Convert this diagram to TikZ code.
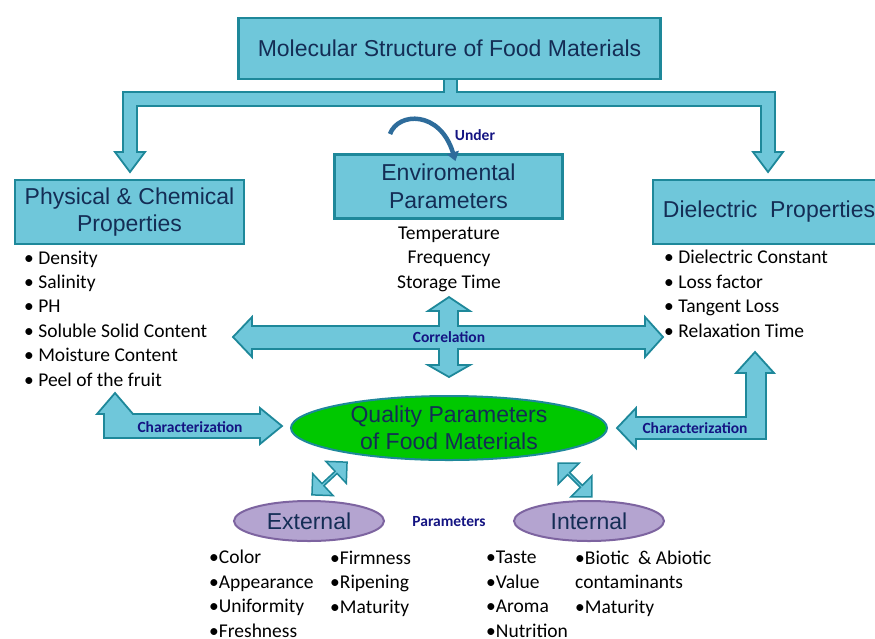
\documentclass[tikz,border=0pt]{standalone}
\usepackage{fontspec}
\setmainfont{Liberation Sans}
\newfontfamily\calibri{Carlito}
\usetikzlibrary{shapes.geometric,shapes.arrows,arrows.meta,calc}
\definecolor{boxfill}{RGB}{111,199,218}
\definecolor{boxline}{RGB}{30,136,154}
\definecolor{navytext}{RGB}{20,45,85}
\definecolor{tagblue}{RGB}{20,20,130}
\definecolor{qualgreen}{RGB}{0,200,0}
\definecolor{purplefill}{RGB}{180,164,208}
\definecolor{purpleline}{RGB}{125,100,160}
\definecolor{underblue}{RGB}{46,108,155}
\newcommand{\boxfont}{\fontsize{23}{27.5}\selectfont}
\newcommand{\listfont}{\calibri\fontsize{19.5}{24.4}\selectfont}
\newcommand{\tagfont}{\calibri\bfseries\fontsize{15.5}{18}\selectfont}

\begin{document}
\begin{tikzpicture}[x=1pt,y=-1pt,
        fbox/.style={draw=boxline,fill=boxfill,line width=2.8pt,text=navytext,font=\boxfont,align=center,inner sep=0pt},
        blockarrow/.style={draw=boxline,fill=boxfill,line width=1.8pt,line join=miter},
        diagarrow/.style={double arrow,draw=boxline,fill=boxfill,line width=1.5pt,minimum height=48pt,minimum width=30pt,double arrow head extend=7pt,inner sep=0pt},
        oval/.style={ellipse,line width=2pt,text=navytext,font=\boxfont,align=center,inner sep=0pt},
        tag/.style={text=tagblue,font=\tagfont,inner sep=0pt},
        items/.style={font=\listfont,align=left,anchor=base west,inner sep=0pt}
        ]
        \useasboundingbox (0,0) rectangle (875,638);

        % branching arrow under the top box
        \draw[blockarrow] (444,78) -- (444,92) -- (123,92) -- (123,152) -- (115,152) -- (130,172) -- (145,152) -- (137,152)
                -- (137,106) -- (761,106) -- (761,152) -- (753,152) -- (768,172) -- (783,152) -- (775,152) -- (775,92)
                -- (457,92) -- (457,78) -- cycle;

        % Correlation cross
        \draw[blockarrow] (233,337) -- (252,317) -- (252,326) -- (439,326) -- (439,311) -- (428,311) -- (449,297) -- (470,311)
                -- (458,311) -- (458,326) -- (645,326) -- (645,317) -- (663,337) -- (645,357) -- (645,349) -- (458,349)
                -- (458,365) -- (470,365) -- (449,377) -- (428,365) -- (439,365) -- (439,349) -- (252,349) -- (252,357) -- cycle;

        % Characterization, left and right
        \draw[blockarrow] (104,438) -- (104,414) -- (97,414) -- (115,393) -- (133,414) -- (260,414) -- (260,408) -- (282,426)
                -- (260,444) -- (260,438) -- cycle;
        \draw[blockarrow] (766,439) -- (766,373) -- (774,373) -- (755,352) -- (736,373) -- (746,373) -- (746,417) -- (636,417)
                -- (636,408) -- (617,428) -- (636,448) -- (636,439) -- cycle;

        \node[fbox,minimum width=422,minimum height=61] (molecular) at (449.5,48.5) {Molecular Structure of Food Materials};
        \node[fbox,minimum width=229,minimum height=64] (physical) at (129.5,212) {Physical \& Chemical\\Properties};
        \node[fbox,minimum width=228,minimum height=64] (enviro) at (448.5,186.5) {Enviromental\\Parameters};
        \node[fbox,minimum width=232,minimum height=64] (dielectric) at (769,212) {Dielectric\ \ Properties};

        %Under
        \coordinate (understart) at (390,134);
        \draw[underblue,line width=4.5pt,-{Triangle[length=9pt,width=12pt]}] (understart)
                .. controls (398,112) and (440,110) .. ($(enviro.north)+(7,8)$);
        \node[tag] (under) at (475,135) {Under};

        % lists sit on the baseline of their last line
        \node[items,anchor=base,align=center] (envlist) at (449,288) {Temperature\\Frequency\\Storage Time};
        \node[items] (physlist) at (24,386) {• Density\\• Salinity\\• PH\\• Soluble Solid Content\\• Moisture Content\\• Peel of the fruit};
        \node[items] (diellist) at (664,337) {• Dielectric Constant\\• Loss factor\\• Tangent Loss\\• Relaxation Time};

        \node[tag] (correlation) at (449,337) {Correlation};
        \node[tag] (charleft) at (190,427) {Characterization};
        \node[tag] (charright) at (695,428) {Characterization};

        \node[oval,draw=boxline,fill=qualgreen,minimum width=316,minimum height=64] (quality) at (449,428) {Quality Parameters\\of Food Materials};
        \node[oval,draw=purpleline,fill=purplefill,minimum width=150,minimum height=40] (external) at (309,521) {External};
        \node[oval,draw=purpleline,fill=purplefill,minimum width=150,minimum height=40] (internal) at (589,521) {Internal};
        \node[tag] (parameters) at (449,522) {Parameters};

        \node[diagarrow,rotate=43] (extarrow) at (329.5,478.5) {};
        \node[diagarrow,rotate=-45] (intarrow) at (575,480) {};

        \node[items] (extA) at (209,637) {•Color\\•Appearance\\•Uniformity\\•Freshness};
        \node[items] (extB) at (330,613) {•Firmness\\•Ripening\\•Maturity};
        \node[items] (intA) at (486,637) {•Taste\\•Value\\•Aroma\\•Nutrition};
        \node[items] (intB) at (575,613) {•Biotic\ \ \& Abiotic\\contaminants\\•Maturity};
\end{tikzpicture}
\end{document}
